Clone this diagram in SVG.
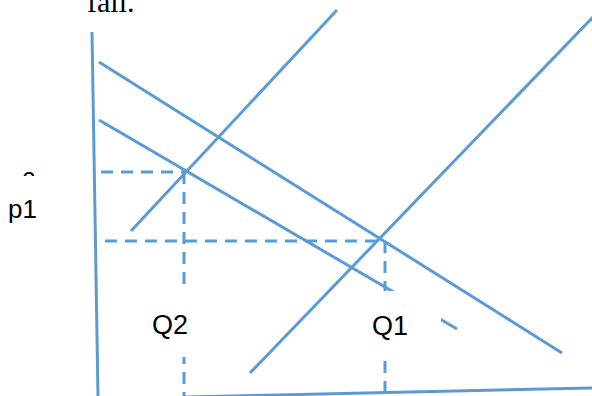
<svg xmlns="http://www.w3.org/2000/svg" width="592" height="396" viewBox="0 0 592 396">
<style>
.ln{stroke:#5B9BD5;stroke-width:3;fill:none;stroke-linecap:butt}
.ds{stroke:#5B9BD5;stroke-width:3;fill:none;stroke-dasharray:12 8}
.lbl{font-family:"Liberation Sans",Arial,sans-serif;fill:#000}
.box{fill:#fff}
</style>
<rect width="592" height="396" fill="#fff"/>
<text x="87" y="12" font-family="Liberation Serif,'Times New Roman',serif" font-size="30" fill="#000">fall.</text>
<g id="connectors">
<line class="ln" x1="92" y1="32" x2="98" y2="396"/>
<line class="ln" x1="185" y1="397" x2="592" y2="388"/>
<line class="ln" x1="131" y1="231" x2="337" y2="10"/>
<line class="ln" x1="250" y1="373" x2="593" y2="17"/>
<line class="ln" x1="99" y1="62" x2="562" y2="353"/>
<line class="ln" x1="99" y1="120" x2="457" y2="329"/>
<line class="ds" x1="101" y1="172" x2="186" y2="172"/>
<line class="ds" x1="105" y1="241" x2="383" y2="241"/>
<line class="ds" x1="184" y1="172" x2="184" y2="396"/>
<line class="ds" x1="385" y1="241" x2="385" y2="396"/>
</g>
<g id="label-p2"><text class="lbl" x="9" y="189" font-size="24">p2</text></g>
<g id="label-p1"><rect class="box" x="0" y="176" width="60" height="58"/><text class="lbl" x="8" y="218" font-size="26">p1</text></g>
<g id="label-Q2"><rect class="box" x="130" y="291" width="80" height="66"/><text class="lbl" x="152" y="334" font-size="27">Q2</text></g>
<g id="label-Q1"><rect class="box" x="355" y="291" width="86" height="66"/><text class="lbl" x="372" y="335" font-size="27">Q1</text></g>
</svg>
